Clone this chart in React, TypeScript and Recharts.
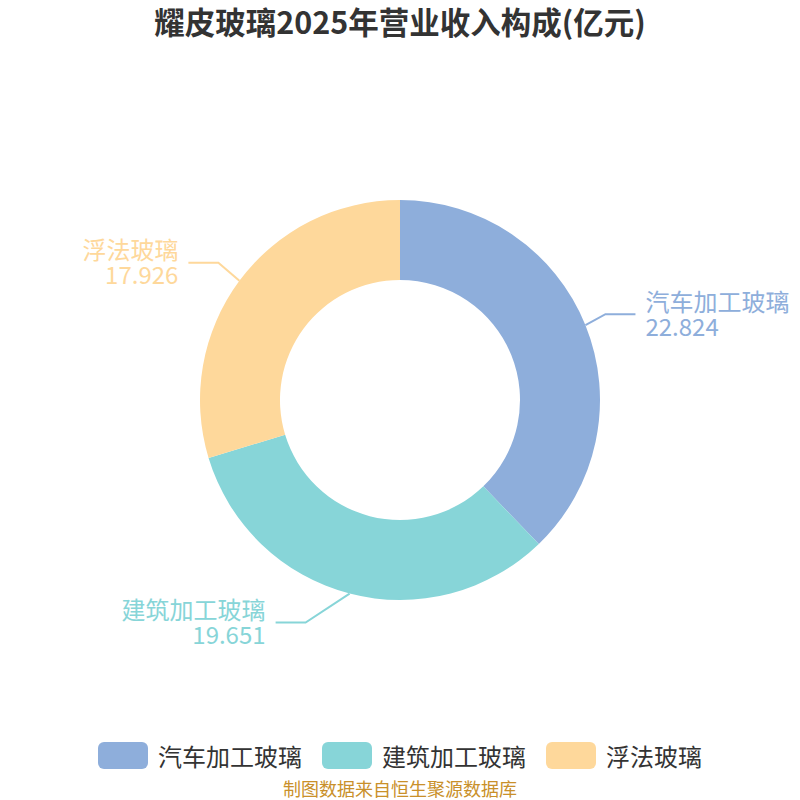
import React from 'react';
import { PieChart, Pie, Cell } from 'recharts';

const categories = ['汽车加工玻璃', '建筑加工玻璃', '浮法玻璃'];
const values = [22.824, 19.651, 17.926];
const colors = ['#8eaedb', '#87d5d8', '#fed89b'];
const titleText = '耀皮玻璃2025年营业收入构成(亿元)';
const sourceText = '制图数据来自恒生聚源数据库';

const data = categories.map((name, i) => ({ name, value: values[i] }));

// label-line elbow offsets (relative to the slice edge), style only
const elbowOffsets = [
  [20, -11],
  [-44, 29],
  [-21, -18],
];

const FONT = '"Noto Sans CJK SC", "Noto Sans", sans-serif';
const RAD = Math.PI / 180;

if (typeof document !== 'undefined') {
  document.body.style.margin = '0';
}

const renderLabel = (props: any) => {
  const { cx, cy, midAngle, outerRadius, index } = props;
  const color = colors[index];
  const sx = cx + outerRadius * Math.cos(-midAngle * RAD);
  const sy = cy + outerRadius * Math.sin(-midAngle * RAD);
  const [ox, oy] = elbowOffsets[index];
  const ex = sx + ox;
  const ey = sy + oy;
  const right = Math.cos(-midAngle * RAD) >= 0;
  const hx = ex + (right ? 30 : -30);
  const tx = hx + (right ? 10 : -10);
  const anchor = right ? 'start' : 'end';
  return (
    <g>
      <polyline
        points={`${sx},${sy} ${ex},${ey} ${hx},${ey}`}
        fill="none"
        stroke={color}
        strokeWidth={2}
      />
      <text x={tx} y={ey - 14} fill={color} fontSize={24} fontFamily={FONT} textAnchor={anchor} dominantBaseline="central">
        {categories[index]}
      </text>
      <text x={tx} y={ey + 11} fill={color} fontSize={24} fontFamily={FONT} textAnchor={anchor} dominantBaseline="central">
        {values[index].toFixed(3)}
      </text>
    </g>
  );
};

export default function App() {
  return (
    <div style={{ position: 'relative', width: 800, height: 800, background: '#fff', overflow: 'hidden' }}>
      <div
        style={{
          position: 'absolute', top: 3, left: 0, width: 800, textAlign: 'center',
          fontFamily: FONT, fontWeight: 'bold', fontSize: 30.5, color: '#333', lineHeight: '36px',
        }}
      >
        {titleText}
      </div>
      <PieChart width={800} height={800} margin={{ top: 0, right: 0, bottom: 0, left: 0 }}>
        <Pie
          data={data}
          dataKey="value"
          nameKey="name"
          cx={400}
          cy={400}
          innerRadius={120}
          outerRadius={200}
          startAngle={90}
          endAngle={-270}
          stroke="none"
          label={renderLabel}
          labelLine={false}
          isAnimationActive={false}
        >
          {data.map((d, i) => (
            <Cell key={d.name} fill={colors[i]} />
          ))}
        </Pie>
      </PieChart>
      <div
        style={{
          position: 'absolute', top: 742, left: 0, width: 800, display: 'flex',
          justifyContent: 'center', alignItems: 'center', fontFamily: FONT,
        }}
      >
        {categories.map((c, i) => (
          <div key={c} style={{ display: 'flex', alignItems: 'center', marginRight: i < categories.length - 1 ? 20 : 0 }}>
            <div style={{ width: 50, height: 27, borderRadius: 6, background: colors[i], marginRight: 10 }} />
            <span style={{ fontSize: 24, color: '#333', lineHeight: '27px' }}>{c}</span>
          </div>
        ))}
      </div>
      <div
        style={{
          position: 'absolute', top: 778, left: 0, width: 800, textAlign: 'center',
          fontFamily: FONT, fontSize: 18, color: '#c9902a', lineHeight: '20px',
        }}
      >
        {sourceText}
      </div>
    </div>
  );
}
